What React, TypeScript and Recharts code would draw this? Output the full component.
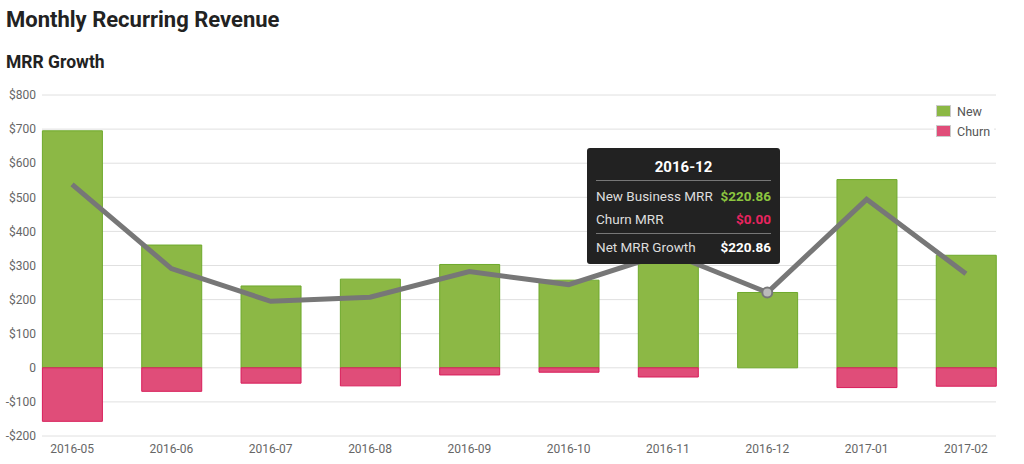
import React from "react";
import {
  ComposedChart,
  Bar,
  Line,
  XAxis,
  YAxis,
  CartesianGrid,
  Tooltip,
} from "recharts";

const months = [
  "2016-05",
  "2016-06",
  "2016-07",
  "2016-08",
  "2016-09",
  "2016-10",
  "2016-11",
  "2016-12",
  "2017-01",
  "2017-02",
];
const newMrr = [695, 360, 240, 260, 303, 257, 365, 220.86, 552, 330];
const churnMrr = [-157, -69, -45, -53, -21, -13, -27, 0, -58, -54];
const netMrr = [538, 291, 195, 207, 282, 244, 338, 220.86, 494, 276];
const yTicks = [-200, -100, 0, 100, 200, 300, 400, 500, 600, 700, 800];

const data = months.map((month, i) => ({
  month,
  newMrr: newMrr[i],
  churn: churnMrr[i],
  net: netMrr[i],
}));

const FONT = "Roboto, 'Noto Sans', sans-serif";
const GREEN = "#8cb845";
const GREEN_EDGE = "#6ea92c";
const PINK = "#e04d79";
const PINK_EDGE = "#d81d5a";

const money = (v: number) => (v < 0 ? "-$" : "$") + Math.abs(v).toFixed(2);

const yLabel = (v: number) => (v === 0 ? "0" : v < 0 ? "-$" + -v : "$" + v);

function MrrTooltip({ active, payload, label }: any) {
  if (!active || !payload || !payload.length) return null;
  const row = payload[0].payload;
  const line = { height: 1, background: "#777" };
  const r = {
    display: "flex",
    justifyContent: "space-between",
    height: 23,
    alignItems: "center",
  };
  return (
    <div
      style={{
        width: 175,
        background: "#222",
        borderRadius: 3,
        padding: "6px 9px 4px 9px",
        fontFamily: FONT,
        fontSize: 13.5,
        color: "#ddd",
      }}
    >
      <div
        style={{
          textAlign: "center",
          fontWeight: "bold",
          fontSize: 15,
          color: "#fff",
          height: 26,
          lineHeight: "26px",
        }}
      >
        {label}
      </div>
      <div style={line} />
      <div style={{ ...r, marginTop: 3 }}>
        <span>New Business MRR</span>
        <span style={{ color: "#8cc63f", fontWeight: "bold" }}>
          {money(row.newMrr)}
        </span>
      </div>
      <div style={r}>
        <span>Churn MRR</span>
        <span style={{ color: "#e8245f", fontWeight: "bold" }}>
          {money(Math.abs(row.churn))}
        </span>
      </div>
      <div style={{ ...line, marginTop: 3 }} />
      <div style={{ ...r, height: 26 }}>
        <span>Net MRR Growth</span>
        <span style={{ color: "#fff", fontWeight: "bold" }}>{money(row.net)}</span>
      </div>
    </div>
  );
}

function LegendBox() {
  const item = (color: string, text: string) => (
    <div style={{ display: "flex", alignItems: "center", height: 20 }}>
      <div
        style={{
          width: 13,
          height: 10,
          background: color,
          border: "1px solid #ccc",
          marginRight: 6,
        }}
      />
      <span>{text}</span>
    </div>
  );
  return (
    <div
      style={{
        position: "absolute",
        left: 934,
        top: 101,
        padding: "0 4px 0 2px",
        background: "#fff",
        fontFamily: FONT,
        fontSize: 12.5,
        color: "#555",
      }}
    >
      {item(GREEN, "New")}
      {item(PINK, "Churn")}
    </div>
  );
}

export default function App() {
  return (
    <div
      style={{
        position: "absolute",
        left: 0,
        top: 0,
        width: 1024,
        height: 464,
        background: "#fff",
        fontFamily: FONT,
      }}
    >
      <div
        style={{
          position: "absolute",
          left: 6,
          top: 7,
          fontSize: 22,
          fontWeight: "bold",
          color: "#222",
        }}
      >
        Monthly Recurring Revenue
      </div>
      <div
        style={{
          position: "absolute",
          left: 6,
          top: 52,
          fontSize: 17.5,
          fontWeight: "bold",
          color: "#222",
        }}
      >
        MRR Growth
      </div>
      <ComposedChart
        width={1024}
        height={464}
        data={data}
        stackOffset="sign"
        margin={{ top: 95, right: 28, bottom: 0, left: 0 }}
        style={{ position: "absolute", left: 0, top: 0 }}
      >
        <CartesianGrid vertical={false} stroke="#e0e0e0" />
        <XAxis
          dataKey="month"
          height={28}
          axisLine={false}
          tickLine={false}
          padding={{ left: -19.6, right: -19.6 }}
          tick={{ fill: "#666", fontSize: 12, fontFamily: FONT }}
        />
        <YAxis
          width={42}
          domain={[-200, 800]}
          ticks={yTicks}
          axisLine={false}
          tickLine={false}
          tickMargin={0}
          tickFormatter={yLabel}
          tick={{ fill: "#666", fontSize: 12, fontFamily: FONT }}
        />
        <Tooltip
          content={<MrrTooltip />}
          defaultIndex={7}
          active
          cursor={false}
          position={{ x: 587, y: 148 }}
          isAnimationActive={false}
          wrapperStyle={{ outline: "none" }}
        />
        <Bar
          dataKey="newMrr"
          stackId="mrr"
          barSize={60}
          fill={GREEN}
          stroke={GREEN_EDGE}
          strokeWidth={1}
          isAnimationActive={false}
        />
        <Bar
          dataKey="churn"
          stackId="mrr"
          barSize={60}
          fill={PINK}
          stroke={PINK_EDGE}
          strokeWidth={1}
          isAnimationActive={false}
        />
        <Line
          dataKey="net"
          type="linear"
          stroke="#777"
          strokeWidth={5}
          dot={false}
          activeDot={{ r: 5, fill: "#bbb", stroke: "#777", strokeWidth: 2 }}
          isAnimationActive={false}
        />
      </ComposedChart>
      <LegendBox />
    </div>
  );
}
